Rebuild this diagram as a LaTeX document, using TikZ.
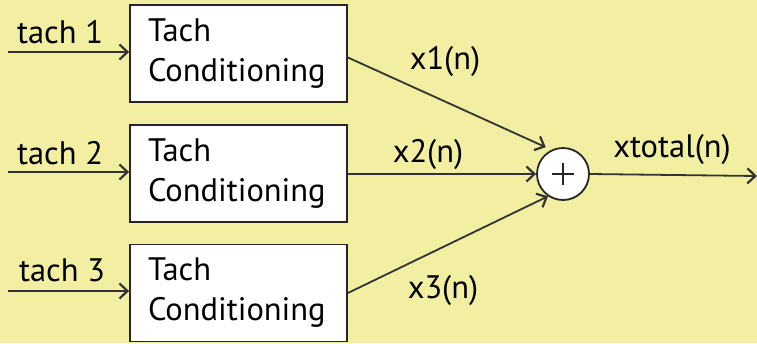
\documentclass[tikz,border=0pt]{standalone}
\usepackage{fontspec}
\setmainfont{PT Sans}
\usetikzlibrary{arrows.meta}
\definecolor{bgyellow}{RGB}{242,238,162}
\begin{document}
\begin{tikzpicture}[x=1pt,y=1pt,
  every node/.style={font=\fontsize{32.5}{40}\selectfont},
  condbox/.style={draw=black!85,line width=1.8pt,fill=white,minimum width=217pt,minimum height=97pt,
    text width=181pt,inner xsep=18pt,align=left},
  sumnode/.style={draw=black!85,line width=1.8pt,fill=white,circle,minimum size=52pt,inner sep=0pt},
  sig/.style={line width=1.8pt,draw=black!80,-{Straight Barb[length=8pt,width=15pt,line width=2.2pt]}},
  lbl/.style={inner sep=0pt}]
\fill[bgyellow] (0,0) rectangle (757,-343);
\useasboundingbox (0,0) rectangle (757,-343);
\node[condbox] (b1) at (238.5,-53.5) {Tach\\Conditioning};
\node[condbox] (b2) at (238.5,-173.5) {Tach\\Conditioning};
\node[condbox] (b3) at (238.5,-293) {Tach\\Conditioning};
\node[sumnode] (sum) at (563,-174) {};
\draw[line width=1.8pt,black!85] ([xshift=-11pt]sum.center) -- ([xshift=11pt]sum.center)
  ([yshift=-11pt]sum.center) -- ([yshift=11pt]sum.center);
\coordinate (i1) at (8,-52);
\coordinate (i2) at (8,-172);
\coordinate (i3) at (8,-291);
\coordinate (out) at (757,-176);
\draw[sig] (i1) -- (i1 -| b1.west);
\draw[sig] (i2) -- (i2 -| b2.west);
\draw[sig] (i3) -- (i3 -| b3.west);
\node[lbl] (t1) at (60,-32) {tach 1};
\node[lbl] (t2) at (60,-153) {tach 2};
\node[lbl] (t3) at (62,-270) {tach 3};
\draw[sig] ([yshift=-4pt]b1.east) -- ([shift={(-3pt,4pt)}]sum.122);
\draw[sig] (b2.east |- sum.west) -- (sum.west);
\draw[sig] (b3.east) -- (sum.236);
\draw[sig] (sum.east) -- (out);
\node[lbl] (x1) at (445,-62) {x1(n)};
\node[lbl] (x2) at (428,-155) {x2(n)};
\node[lbl] (x3) at (443,-290) {x3(n)};
\node[lbl] (xt) at (672,-150) {xtotal(n)};
\end{tikzpicture}
\end{document}
